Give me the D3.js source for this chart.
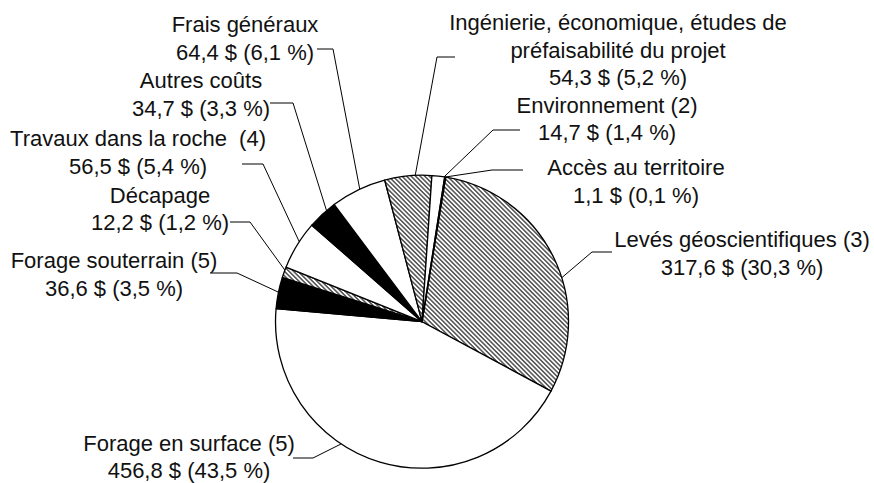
<!DOCTYPE html>
<html>
<head>
<meta charset="utf-8">
<script src="https://cdn.jsdelivr.net/npm/d3@7"></script>
<style>
  body { margin: 0; background: #fff; }
  text { font-family: "Liberation Sans", Arial, sans-serif; font-size: 22px; fill: #111; }
</style>
</head>
<body>
<svg id="chart" width="874" height="483"></svg>
<script>
// Data (M$, share of total), clockwise from the top
var categories = [
    "Levés géoscientifiques (3)",
    "Forage en surface (5)",
    "Forage souterrain (5)",
    "Décapage",
    "Travaux dans la roche  (4)",
    "Autres coûts",
    "Frais généraux",
    "Ingénierie, économique, études de|préfaisabilité du projet",
    "Environnement (2)",
    "Accès au territoire"
];
var values = [317.6, 456.8, 36.6, 12.2, 56.5, 34.7, 64.4, 54.3, 14.7, 1.1];
var percents = [30.3, 43.5, 3.5, 1.2, 5.4, 3.3, 6.1, 5.2, 1.4, 0.1];

// Fill style per slice
var fills = ["hatch", "white", "black", "hatch", "white", "black", "white", "hatch", "white", "black"];

// Label layout: text centre x, first baseline, leader knee x, leader end x, leader y, attach point in slice (0..1)
var labelLayout = [
    {cx: 742, y: 247, knee: 592, end: 612, ly: 252, t: 0.58},
    {cx: 189, y: 450.5, knee: 313, end: 293, ly: 458, t: 0.607},
    {cx: 114, y: 268, knee: 237, end: 210, ly: 273, t: 0.52},
    {cx: 160, y: 202.5, knee: 250, end: 230, ly: 222, t: 0.71},
    {cx: 138, y: 146, knee: 263, end: 242, ly: 164, t: 0.58},
    {cx: 201, y: 88, knee: 293, end: 270, ly: 103, t: 0.68},
    {cx: 245, y: 32, knee: 333, end: 317, ly: 49, t: 0.53},
    {cx: 618, y: 30, knee: 437, end: 455, ly: 57, t: 0.65},
    {cx: 607, y: 112.5, knee: 493, end: 520, ly: 130, t: 0.95},
    {cx: 636, y: 175, knee: 492, end: 523, ly: 170, t: 0.5}
];

var width = 874, height = 483;
var cx = 422, cy = 321.7, radius = 146.5;
var startDeg = 9.3;
var lineH = 27.6;

var svg = d3.select("#chart");

// hatch pattern (downward diagonal)
var defs = svg.append("defs");
var pat = defs.append("pattern")
    .attr("id", "hatch")
    .attr("patternUnits", "userSpaceOnUse")
    .attr("width", 3.2)
    .attr("height", 3.2)
    .attr("patternTransform", "rotate(45)");
pat.append("rect").attr("width", 3.2).attr("height", 3.2).attr("fill", "#fff");
pat.append("line")
    .attr("x1", 0).attr("y1", 0.8)
    .attr("x2", 3.2).attr("y2", 0.8)
    .attr("stroke", "#222")
    .attr("stroke-width", 1.2);

var start = startDeg * Math.PI / 180;
var pie = d3.pie()
    .sort(null)
    .value(function(d) { return d; })
    .startAngle(start)
    .endAngle(start + 2 * Math.PI);

var arc = d3.arc().innerRadius(0).outerRadius(radius);
var arcs = pie(values);

var g = svg.append("g").attr("transform", "translate(" + cx + "," + cy + ")");

g.selectAll("path.slice")
    .data(arcs)
    .enter()
    .append("path")
    .attr("class", "slice")
    .attr("d", arc)
    .attr("fill", function(d, i) {
        return fills[i] == "hatch" ? "url(#hatch)" : fills[i];
    })
    .attr("stroke", "#000")
    .attr("stroke-width", 1.3)
    .attr("stroke-linejoin", "round");

function fmt(v) {
    return v.toFixed(1).replace(".", ",");
}

// leader lines
var leaders = svg.append("g").attr("class", "leaders");
arcs.forEach(function(d, i) {
    var L = labelLayout[i];
    var a = d.startAngle + L.t * (d.endAngle - d.startAngle);
    var px = cx + radius * Math.sin(a);
    var py = cy - radius * Math.cos(a);
    leaders.append("polyline")
        .attr("points", [[px, py], [L.knee, L.ly], [L.end, L.ly]].map(function(p) { return p.join(","); }).join(" "))
        .attr("fill", "none")
        .attr("stroke", "#000")
        .attr("stroke-width", 1);
});

// labels
var labels = svg.append("g").attr("class", "labels");
categories.forEach(function(c, i) {
    var L = labelLayout[i];
    var lines = c.split("|");
    lines.push(fmt(values[i]) + " $ (" + fmt(percents[i]) + " %)");
    var txt = labels.append("text")
        .attr("text-anchor", "middle")
        .attr("xml:space", "preserve");
    lines.forEach(function(s, j) {
        txt.append("tspan")
            .attr("x", L.cx)
            .attr("y", L.y + j * lineH)
            .text(s);
    });
});
</script>
</body>
</html>
